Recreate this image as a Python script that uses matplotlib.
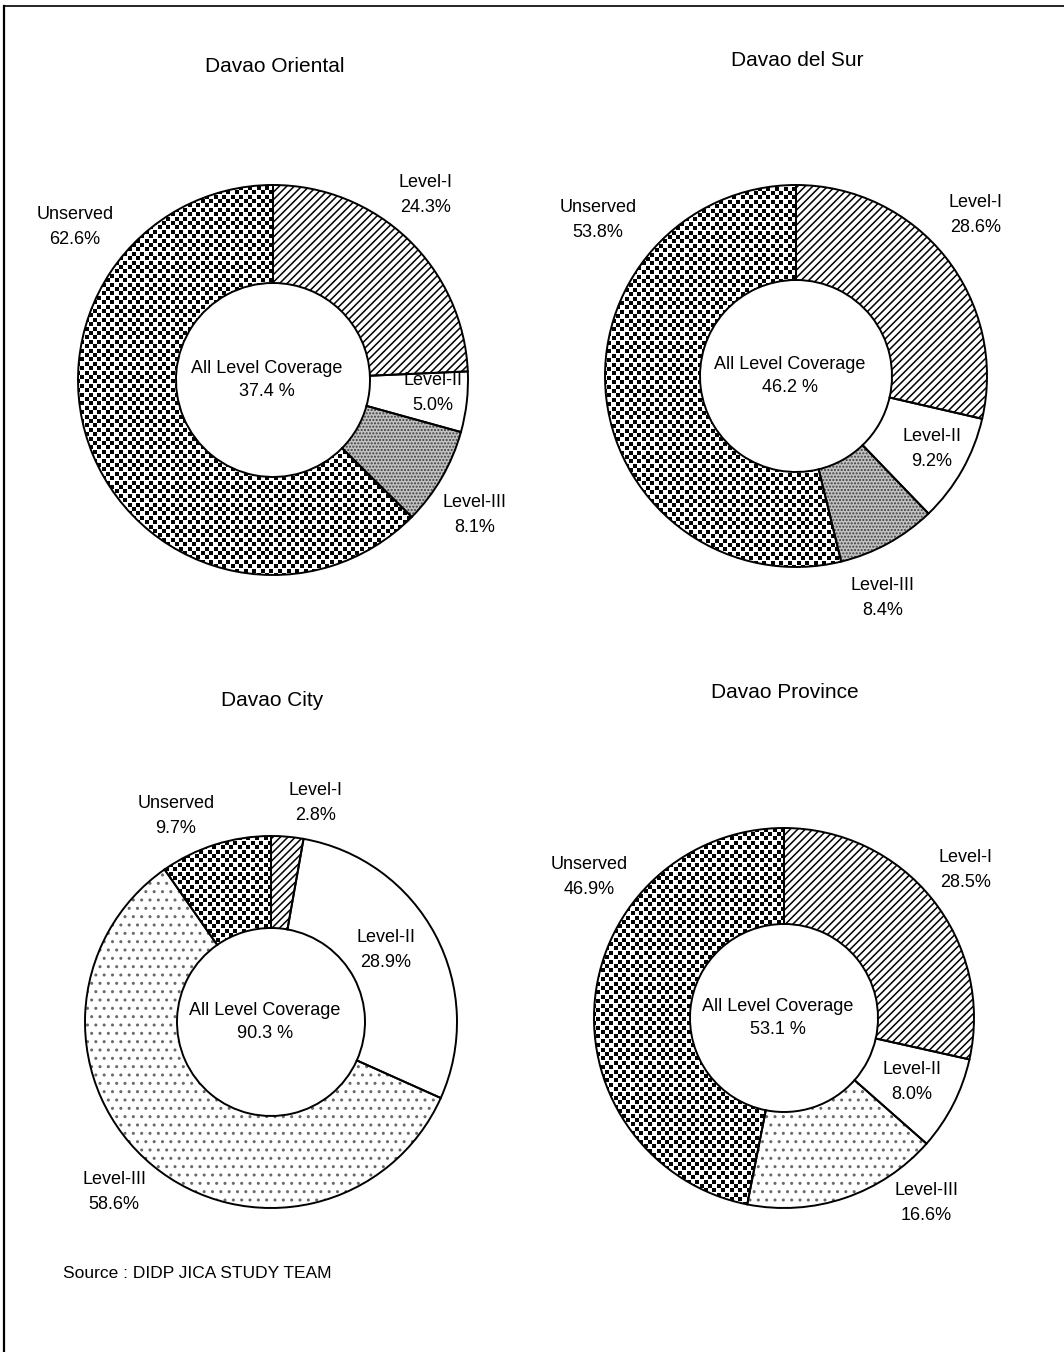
import matplotlib
matplotlib.use('Agg')
import matplotlib.pyplot as plt
import numpy as np
from matplotlib.lines import Line2D
from matplotlib.collections import LineCollection

# ---- water supply coverage by level (%) ----
provinces = ['Davao Oriental', 'Davao del Sur', 'Davao City', 'Davao Province']
levels = ['Level-I', 'Level-II', 'Level-III', 'Unserved']
level_1 = [24.3, 28.6, 2.8, 28.5]
level_2 = [5.0, 9.2, 28.9, 8.0]
level_3 = [8.1, 8.4, 58.6, 16.6]
unserved = [62.6, 53.8, 9.7, 46.9]

W, H = 1064, 1352

# ---- layout in pixels (y measured from top) ----
centers = [(273, 380), (796, 376), (271, 1022), (784, 1018)]
outer_r = [195, 191, 186, 190]
inner_r = [97, 96, 94, 94]
title_pos = [(275, 66), (797, 60), (272, 700), (785, 693)]
label_pos = [
    [(426, 195), (433, 393), (475, 515), (75, 227)],
    [(976, 215), (932, 449), (883, 598), (598, 220)],
    [(316, 803), (386, 950), (114, 1192), (176, 816)],
    [(966, 870), (912, 1082), (926, 1203), (589, 877)],
]

sans = ['Liberation Sans', 'DejaVu Sans']

fig = plt.figure(figsize=(W / 100, H / 100), dpi=100, facecolor='white')
ax = fig.add_axes([0, 0, 1, 1])


def diagonal_lines(wedge, cx, cy, r, step=7.5):
    # '/' shading drawn as clipped line segments
    offs = np.arange(-2 * r, 2 * r, step)
    segs = [[(cx - r, cy - r + o), (cx + r, cy + r + o)] for o in offs]
    lc = LineCollection(segs, colors='black', linewidths=1.1)
    ax.add_collection(lc)
    lc.set_clip_path(wedge)


def dot_screen(wedge, cx, cy, r, dx=8.6, dy=4.4, size=6.5):
    # staggered black dots (coarse screen)
    pts = []
    for k, y in enumerate(np.arange(cy - r, cy + r, dy)):
        shift = dx / 2 if k % 2 else 0.0
        for x in np.arange(cx - r + shift, cx + r, dx):
            pts.append((x, y))
    pts = np.array(pts)
    sc = ax.scatter(pts[:, 0], pts[:, 1], s=size, marker='s', c='black',
                    linewidths=0)
    sc.set_clip_path(wedge)


for i, name in enumerate(provinces):
    vals = [level_1[i], level_2[i], level_3[i], unserved[i]]
    cx, cy = centers[i]
    cy = H - cy
    r = outer_r[i]
    ring = r - inner_r[i]
    wedges, _ = ax.pie(vals, center=(cx, cy), radius=r, startangle=90,
                       counterclock=False, frame=True,
                       wedgeprops=dict(width=ring, linewidth=0))
    w1, w2, w3, w4 = wedges
    w1.set(facecolor='white')
    w2.set(facecolor='white')
    w4.set(facecolor='white')
    if i < 2:
        w3.set(facecolor='#c2c2c2', edgecolor='#3c3c3c', hatch='.....')
    else:
        w3.set(facecolor='white', edgecolor='#6a6a6a', hatch='..')
    diagonal_lines(w1, cx, cy, r)
    dot_screen(w4, cx, cy, r)

    # outlines on top of the textures
    ax.pie(vals, center=(cx, cy), radius=r, startangle=90,
           counterclock=False, frame=True,
           wedgeprops=dict(width=ring, fill=False, edgecolor='black',
                           linewidth=1.4))

    tx, ty = title_pos[i]
    ax.text(tx, H - ty, name, ha='center', va='center', fontsize=15,
            family=sans)

    total = level_1[i] + level_2[i] + level_3[i]
    ax.text(cx - 6, cy, 'All Level Coverage\n%.1f %%' % total,
            ha='center', va='center', fontsize=13, family=sans,
            linespacing=1.45)

    for lab, v, (lx, ly) in zip(levels, vals, label_pos[i]):
        ax.text(lx, H - ly, '%s\n%.1f%%' % (lab, v), ha='center',
                va='center', fontsize=13, family=sans, linespacing=1.55)

ax.text(63, H - 1273, 'Source : DIDP JICA STUDY TEAM', ha='left',
        va='center', fontsize=12.5, family=sans)

ax.set_xlim(0, W)
ax.set_ylim(0, H)
ax.set_aspect('auto')
ax.axis('off')

# page frame (top and left edges)
fig.add_artist(Line2D([4 / W, 1], [1 - 6 / H, 1 - 6 / H], color='black',
                      linewidth=1.2))
fig.add_artist(Line2D([4 / W, 4 / W], [0, 1 - 6 / H], color='black',
                      linewidth=1.6))

fig.savefig('out.png', dpi=100, facecolor='white')
